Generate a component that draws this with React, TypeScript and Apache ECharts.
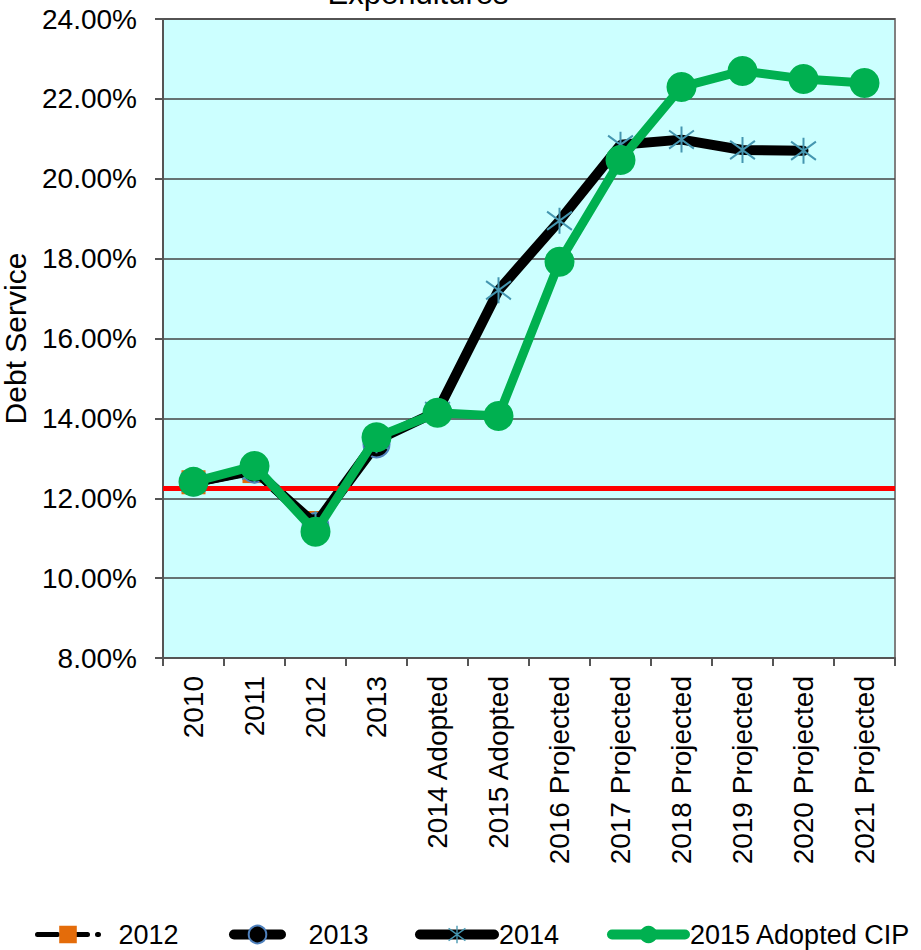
import React, { useEffect, useRef } from "react";
import * as echarts from "echarts";

const categories = [
  "2010", "2011", "2012", "2013", "2014 Adopted", "2015 Adopted",
  "2016 Projected", "2017 Projected", "2018 Projected", "2019 Projected",
  "2020 Projected", "2021 Projected",
];
const s2012 = [12.4, 12.68, 11.38, null, null, null, null, null, null, null, null, null];
const s2013 = [12.4, 12.72, 11.3, 13.35, null, null, null, null, null, null, null, null];
const s2014 = [12.4, 12.7, 11.35, 13.45, 14.18, 17.21, 18.95, 20.85, 20.98, 20.72, 20.7, null];
const s2015 = [12.41, 12.81, 11.16, 13.53, 14.14, 14.06, 17.92, 20.47, 22.3, 22.7, 22.5, 22.4];
const targetLine = 12.25;
const yTicks = { min: 8, max: 24, interval: 2 };
const titleText = "Expenditures";
const yName = "Debt Service";

const FONT = "'Liberation Sans', Arial, sans-serif";
const ASTERISK =
  "path://M9.2,0 L10.8,0 L10.8,20 L9.2,20 Z M0.46,2.34 L20.46,16.34 L19.54,17.66 L-0.46,3.66 Z M-0.46,16.34 L19.54,2.34 L20.46,3.66 L0.46,17.66 Z";

export default function App() {
  const ref = useRef<HTMLDivElement>(null);
  useEffect(() => {
    if (!ref.current) return;
    const chart = echarts.init(ref.current, null, { renderer: "svg" });
    const legendText = { fontSize: 27, color: "#000", fontFamily: FONT };
    chart.setOption({
      animation: false,
      textStyle: { fontFamily: FONT },
      graphic: [
        {
          type: "text",
          x: 418,
          y: 9,
          style: {
            text: titleText,
            fontSize: 31,
            fontFamily: FONT,
            fill: "#000",
            align: "center",
            verticalAlign: "bottom",
          },
        },
      ],
      grid: {
        left: 163,
        right: 26,
        top: 19,
        bottom: 292,
        outerBoundsMode: "none",
        containLabel: false,
        show: true,
        backgroundColor: "#CCFFFF",
        borderColor: "#808080",
        borderWidth: 2,
      },
      legend: [
        {
          data: ["2012"], left: 35, top: 921, itemWidth: 61, itemHeight: 22,
          formatter: "  {name}", textStyle: legendText, padding: 0,
          lineStyle: { width: 5 },
        },
        {
          data: ["2013"], left: 229, top: 921, itemWidth: 47, itemHeight: 22,
          formatter: "   {name}", textStyle: legendText, padding: 0,
          lineStyle: { width: 10 },
        },
        {
          data: ["2014"], left: 415, top: 921, itemWidth: 74, itemHeight: 22,
          textStyle: legendText, padding: 0,
          lineStyle: { width: 10 },
        },
        {
          data: ["2015 Adopted CIP"], left: 607, top: 921, itemWidth: 73, itemHeight: 22,
          textStyle: legendText, padding: 0,
          lineStyle: { width: 10 },
        },
      ],
      xAxis: {
        type: "category",
        data: categories,
        boundaryGap: true,
        axisLine: { lineStyle: { color: "#555", width: 2 } },
        axisTick: { show: true, length: 8, interval: 0, lineStyle: { color: "#555", width: 2 } },
        axisLabel: { rotate: 90, interval: 0, fontSize: 28, color: "#000", margin: 18, fontFamily: FONT },
      },
      yAxis: {
        type: "value",
        min: yTicks.min,
        max: yTicks.max,
        interval: yTicks.interval,
        name: yName,
        nameLocation: "middle",
        nameGap: 133,
        nameTextStyle: { fontSize: 30, color: "#000", fontFamily: FONT },
        axisLine: { show: true, lineStyle: { color: "#555", width: 2 } },
        axisTick: { show: true, length: 8, inside: false, lineStyle: { color: "#555", width: 2 } },
        axisLabel: {
          fontSize: 28, color: "#000", margin: 26, fontFamily: FONT,
          formatter: (v: number) => v.toFixed(2) + "%",
        },
        splitLine: { show: true, lineStyle: { color: "#444", width: 1.5 } },
      },
      series: [
        {
          name: "2012",
          type: "line",
          data: s2012,
          z: 2,
          symbol: "rect",
          symbolSize: 24,
          itemStyle: { color: "#E46C0A", borderWidth: 0 },
          lineStyle: { color: "#000", width: 5, type: "dashed", cap: "round" },
        },
        {
          name: "2013",
          type: "line",
          data: s2013,
          z: 3,
          symbol: "circle",
          symbolSize: 26,
          itemStyle: { color: "#000", borderColor: "#4F81BD", borderWidth: 2 },
          lineStyle: { color: "#000", width: 10, cap: "round" },
        },
        {
          name: "2014",
          type: "line",
          data: s2014,
          z: 4,
          symbol: ASTERISK,
          symbolSize: [26, 26],
          itemStyle: { color: "#4596B0", borderWidth: 0 },
          lineStyle: { color: "#000", width: 10, cap: "round" },
        },
        {
          name: "2015 Adopted CIP",
          type: "line",
          data: s2015,
          z: 5,
          symbol: "circle",
          symbolSize: 30,
          itemStyle: { color: "#00B050", borderWidth: 0 },
          lineStyle: { color: "#00B050", width: 9, cap: "round" },
        },
        {
          name: "target",
          type: "line",
          data: [],
          z: 10,
          markLine: {
            silent: true,
            symbol: ["none", "none"],
            label: { show: false },
            lineStyle: { color: "#FF0000", width: 5, type: "solid" },
            data: [{ yAxis: targetLine }],
          },
        },
      ],
    });
    return () => chart.dispose();
  }, []);
  return <div ref={ref} style={{ width: 921, height: 950, position: "absolute", left: 0, top: 0 }} />;
}
